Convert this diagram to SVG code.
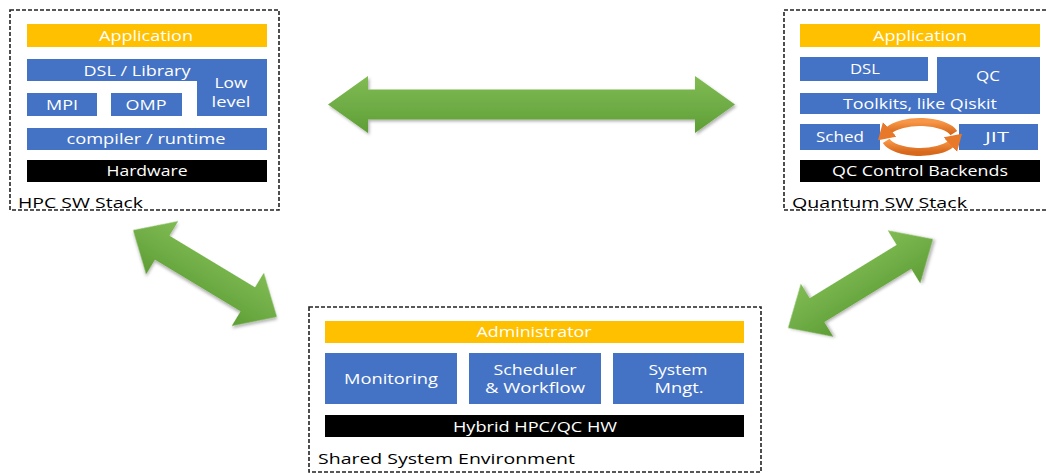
<svg xmlns="http://www.w3.org/2000/svg" width="1046" height="473" viewBox="0 0 1046 473">
<style>
.frame{fill:#fff;stroke:#222;stroke-width:1.6;stroke-dasharray:4 2}
.y{fill:#FFC000}
.b{fill:#4472C4}
.k{fill:#000}
.t{font-family:"Open Sans","Liberation Sans",sans-serif;font-size:14.5px;fill:#fff;text-anchor:middle}
.lab{font-family:"Open Sans","Liberation Sans",sans-serif;font-size:15px;fill:#000}
.arr{fill:url(#g);filter:url(#sh)}
.cyc{fill:none;stroke:url(#o);stroke-width:8}
</style>
<defs>
<linearGradient id="g" x1="0" y1="0" x2="0" y2="1">
<stop offset="0" stop-color="#80BC52"/>
<stop offset="0.5" stop-color="#70AD47"/>
<stop offset="1" stop-color="#5E9E34"/>
</linearGradient>
<linearGradient id="o" x1="0" y1="0" x2="0" y2="1">
<stop offset="0" stop-color="#F79646"/>
<stop offset="1" stop-color="#D8691C"/>
</linearGradient>
<filter id="sh" x="-20%" y="-40%" width="140%" height="180%">
<feDropShadow dx="1.5" dy="2" stdDeviation="1.5" flood-color="#000" flood-opacity="0.3"/>
</filter>
<marker id="ah" markerUnits="userSpaceOnUse" markerWidth="20" markerHeight="20" refX="2" refY="10" orient="auto">
<path d="M0,0 L16,10 L0,20 Z" fill="#E8782A"/>
</marker>
</defs>

<g id="hpc">
<rect class="frame" x="10" y="10" width="269" height="200"/>
<rect class="y" x="27" y="24" width="240" height="23"/>
<text class="t" x="146" y="41" textLength="94" lengthAdjust="spacingAndGlyphs">Application</text>
<path class="b" d="M27,59 H267 V116 H197 V81 H27 Z"/>
<text class="t" x="137" y="76" textLength="107" lengthAdjust="spacingAndGlyphs">DSL / Library</text>
<text class="t" x="231" y="88" textLength="33" lengthAdjust="spacingAndGlyphs">Low</text>
<text class="t" x="231" y="107" textLength="39" lengthAdjust="spacingAndGlyphs">level</text>
<rect class="b" x="27" y="93" width="70" height="23"/>
<text class="t" x="62" y="110" textLength="32" lengthAdjust="spacingAndGlyphs">MPI</text>
<rect class="b" x="111" y="93" width="71" height="23"/>
<text class="t" x="146" y="110" textLength="41" lengthAdjust="spacingAndGlyphs">OMP</text>
<rect class="b" x="27" y="128" width="240" height="22"/>
<text class="t" x="146" y="144" textLength="159" lengthAdjust="spacingAndGlyphs">compiler / runtime</text>
<rect class="k" x="27" y="160" width="240" height="22"/>
<text class="t" x="147" y="176" textLength="81" lengthAdjust="spacingAndGlyphs">Hardware</text>
<text class="lab" x="18" y="208" textLength="125" lengthAdjust="spacingAndGlyphs">HPC SW Stack</text>
</g>

<g id="quantum">
<rect class="frame" x="784" y="10" width="280" height="200"/>
<rect class="y" x="800" y="24" width="240" height="23"/>
<text class="t" x="920" y="41" textLength="94" lengthAdjust="spacingAndGlyphs">Application</text>
<rect class="b" x="800" y="57" width="128" height="24"/>
<text class="t" x="865" y="74" textLength="30" lengthAdjust="spacingAndGlyphs">DSL</text>
<path class="b" d="M937,57 H1040 V114 H800 V93 H937 Z"/>
<text class="t" x="988" y="81" textLength="24" lengthAdjust="spacingAndGlyphs">QC</text>
<text class="t" x="920" y="109" textLength="154" lengthAdjust="spacingAndGlyphs">Toolkits, like Qiskit</text>
<rect class="b" x="800" y="124" width="80" height="26"/>
<text class="t" x="840" y="142" textLength="48" lengthAdjust="spacingAndGlyphs">Sched</text>
<rect class="b" x="959" y="124" width="79" height="26"/>
<text class="t" x="997" y="142" textLength="24" lengthAdjust="spacingAndGlyphs">JIT</text>
<path class="cyc" d="M953.8,133.1 A35,15 0 0 0 888.3,130.7" marker-end="url(#ah)"/>
<path class="cyc" d="M886.2,140.9 A35,15 0 0 0 951.7,143.3" marker-end="url(#ah)"/>
<rect class="k" x="800" y="160" width="240" height="22"/>
<text class="t" x="920" y="176" textLength="176" lengthAdjust="spacingAndGlyphs">QC Control Backends</text>
<text class="lab" x="792" y="208" textLength="175" lengthAdjust="spacingAndGlyphs">Quantum SW Stack</text>
</g>

<g id="shared">
<rect class="frame" x="309" y="307" width="452" height="165"/>
<rect class="y" x="325" y="321" width="419" height="22"/>
<text class="t" x="534" y="337" textLength="115" lengthAdjust="spacingAndGlyphs">Administrator</text>
<rect class="b" x="325" y="353" width="132" height="51"/>
<text class="t" x="391" y="384" textLength="94" lengthAdjust="spacingAndGlyphs">Monitoring</text>
<rect class="b" x="469" y="353" width="132" height="51"/>
<text class="t" x="535" y="375" textLength="83" lengthAdjust="spacingAndGlyphs">Scheduler</text>
<text class="t" x="535" y="393" textLength="100" lengthAdjust="spacingAndGlyphs">&amp; Workflow</text>
<rect class="b" x="613" y="353" width="131" height="51"/>
<text class="t" x="678" y="375" textLength="59" lengthAdjust="spacingAndGlyphs">System</text>
<text class="t" x="679" y="393" textLength="49" lengthAdjust="spacingAndGlyphs">Mngt.</text>
<rect class="k" x="325" y="415" width="419" height="22"/>
<text class="t" x="535" y="432" textLength="164" lengthAdjust="spacingAndGlyphs">Hybrid HPC/QC HW</text>
<text class="lab" x="318" y="464" textLength="257" lengthAdjust="spacingAndGlyphs">Shared System Environment</text>
</g>

<g id="connectors">
<path class="arr" transform="translate(531.5,104.5)" d="M-203.5,0 L-163.5,-28.5 L-163.5,-15 L163.5,-15 L163.5,-28.5 L203.5,0 L163.5,28.5 L163.5,15 L-163.5,15 L-163.5,28.5 Z"/>
<path class="arr" transform="translate(205,273.5) rotate(31.1)" d="M-84,0 L-50,-31 L-50,-14 L50,-14 L50,-31 L84,0 L50,31 L50,14 L-50,14 L-50,31 Z"/>
<path class="arr" transform="translate(860.5,283.5) rotate(-31.5)" d="M-85,0 L-51,-31 L-51,-14 L51,-14 L51,-31 L85,0 L51,31 L51,14 L-51,14 L-51,31 Z"/>
</g>
</svg>
